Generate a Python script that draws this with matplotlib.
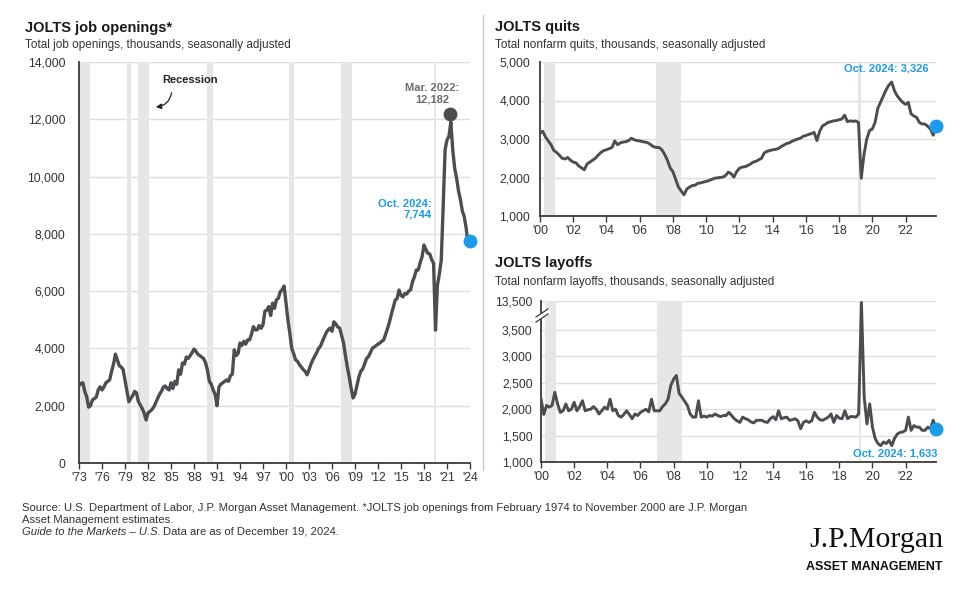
import numpy as np
import matplotlib
matplotlib.use("Agg")
import matplotlib.pyplot as plt
from matplotlib.lines import Line2D
from matplotlib.patches import FancyArrowPatch
from matplotlib.ticker import FuncFormatter

plt.rcParams["font.family"] = ["Liberation Sans", "DejaVu Sans"]

# ---------------- data ----------------
# JOLTS job openings (thousands), quarterly readings from Oct 1973 to Oct 2024
openings_start = 1973.75
openings = [
    2700,
    2780, 2800, 2500, 2320,
    1950, 2000, 2200, 2250,
    2300, 2550, 2660, 2550,
    2650, 2800, 2850, 2900,
    3200, 3450, 3800, 3600,
    3400, 3350, 3270, 2900,
    2550, 2140, 2250, 2350,
    2500, 2450, 2140, 2020,
    1900, 1740, 1500, 1750,
    1800, 1860, 1950, 2100,
    2250, 2400, 2500, 2650,
    2690, 2600, 2550, 2800,
    2600, 2850, 2750, 3250,
    3100, 3490, 3450, 3700,
    3650, 3750, 3850, 3980,
    3900, 3800, 3750, 3700,
    3650, 3500, 3250, 2850,
    2750, 2550, 2400, 2000,
    2650, 2750, 2800, 2850,
    2900, 2850, 3050, 3100,
    3950, 3750, 3820, 4190,
    4100, 4250, 4150, 4300,
    4300, 4500, 4760, 4650,
    4650, 4800, 4700, 4830,
    5300, 5340, 5460, 5150,
    5580, 5400, 5700, 5750,
    5980, 6050, 6180, 5600,
    5000, 4530, 4000, 3820,
    3600, 3550, 3430, 3350,
    3260, 3200, 3080, 3250,
    3450, 3600, 3730, 3850,
    4000, 4080, 4250, 4400,
    4550, 4650, 4710, 4600,
    4930, 4850, 4750, 4710,
    4450, 4200, 3750, 3350,
    3000, 2600, 2270, 2400,
    2700, 3000, 3200, 3280,
    3450, 3650, 3710, 3850,
    4000, 4050, 4100, 4150,
    4190, 4250, 4300, 4500,
    4700, 4930, 5200, 5450,
    5690, 5750, 6040, 5850,
    5800, 5920, 5900, 6000,
    6040, 6330, 6500, 6740,
    6740, 7000, 7200, 7610,
    7450, 7320, 7300, 7100,
    6970, 4640, 6200, 6600,
    7080, 8950, 10930, 11280,
    11400, 11900, 10930, 10290,
    9950, 9500, 9200, 8800,
    8600, 8200, 7600, 7744,
]
openings_ticklabels = ["'73", "'76", "'79", "'82", "'85", "'88", "'91", "'94", "'97",
                       "'00", "'03", "'06", "'09", "'12", "'15", "'18", "'21", "'24"]
peak_date, peak_value, peak_label = 2022 + 2 / 12, 12182, "Mar. 2022:\n12,182"
openings_last_label = "Oct. 2024:\n7,744"

# JOLTS quits and layoffs (thousands), bimonthly readings Dec 2000 .. Oct 2024
jolts_start = 2000 + 11 / 12
quits = [
    3150,
    3200, 3050, 2950, 2850, 2700, 2650,
    2580, 2500, 2480, 2520, 2450, 2400,
    2380, 2300, 2250, 2200, 2350, 2400,
    2450, 2500, 2580, 2650, 2700, 2720,
    2750, 2780, 2950, 2850, 2900, 2920,
    2930, 2960, 3020, 2980, 2960, 2950,
    2930, 2920, 2900, 2850, 2800, 2780,
    2780, 2720, 2600, 2450, 2250, 2150,
    1950, 1750, 1650, 1550, 1700, 1750,
    1790, 1800, 1850, 1860, 1880, 1900,
    1920, 1950, 1980, 1990, 2000, 2010,
    2050, 2140, 2100, 2010, 2150, 2240,
    2270, 2280, 2310, 2350, 2400, 2420,
    2460, 2500, 2640, 2680, 2700, 2720,
    2730, 2750, 2800, 2840, 2880, 2900,
    2940, 2970, 3000, 3020, 3070, 3090,
    3120, 3140, 3170, 2960, 3200, 3340,
    3380, 3430, 3450, 3470, 3480, 3500,
    3520, 3620, 3450, 3470, 3460, 3470,
    3430, 1980, 2600, 3000, 3220, 3260,
    3430, 3800, 3960, 4120, 4280, 4400,
    4480, 4250, 4120, 4030, 3950, 3900,
    3950, 3650, 3600, 3560, 3430, 3390,
    3390, 3330, 3260, 3100, 3326,
]
layoffs = [
    2200,
    1900, 2070, 2040, 2070, 2320, 2100,
    1940, 1970, 2100, 1970, 2000, 2130,
    1970, 2050, 2160, 1970, 1990, 2000,
    2050, 2000, 1910, 1970, 2040, 2000,
    2190, 1970, 2000, 1880, 1850, 1900,
    1970, 1900, 1820, 1910, 1880, 1940,
    1970, 2000, 1950, 2190, 1970, 1970,
    1970, 2050, 2100, 2190, 2450, 2570,
    2640, 2300, 2230, 2150, 2070, 1910,
    1850, 1850, 2160, 1850, 1870, 1850,
    1880, 1870, 1910, 1880, 1860, 1880,
    1880, 1940, 1880, 1820, 1780, 1750,
    1850, 1820, 1800, 1760, 1740, 1790,
    1790, 1790, 1760, 1750, 1820, 1860,
    1800, 1970, 1820, 1840, 1850, 1790,
    1800, 1820, 1780, 1630, 1750, 1780,
    1750, 1780, 1940, 1850, 1800, 1790,
    1820, 1850, 1910, 1750, 1880, 1830,
    1820, 1970, 1820, 1860, 1860, 1850,
    1910, 13000, 2230, 1720, 2100, 1660,
    1440, 1350, 1310, 1380, 1350, 1410,
    1310, 1450, 1530, 1560, 1570, 1600,
    1850, 1600, 1690, 1660, 1660, 1600,
    1600, 1660, 1630, 1790, 1633,
]
jolts_ticklabels = ["'00", "'02", "'04", "'06", "'08", "'10", "'12",
                    "'14", "'16", "'18", "'20", "'22"]
quits_last_label = "Oct. 2024: 3,326"
layoffs_last_label = "Oct. 2024: 1,633"

# NBER recessions (decimal years)
recession_starts = [1973.83, 1980.0, 1981.5, 1990.5, 2001.17, 2007.92, 2020.08]
recession_ends = [1975.17, 1980.5, 1982.83, 1991.17, 2001.83, 2009.42, 2020.25]

# ---------------- style ----------------
W, H = 974, 590
LINE = "#4b4d50"
BLUE = "#1a9cec"
GRID = "#dedede"
SHADE = "#e6e6e6"
TXT = "#333333"

fig = plt.figure(figsize=(W / 100, H / 100), dpi=100)


def box(l, t, r, b):
    return [l / W, 1 - b / H, (r - l) / W, (b - t) / H]


def fpx(x, y):
    return x / W, 1 - y / H


thousands = FuncFormatter(lambda v, p: f"{int(round(v)):,}")


def style(ax, ypad):
    for s in ("top", "right"):
        ax.spines[s].set_visible(False)
    for s in ("left", "bottom"):
        ax.spines[s].set_color("#3a3a3a")
        ax.spines[s].set_linewidth(1.3)
    ax.set_axisbelow(True)
    ax.yaxis.grid(True, color=GRID, lw=1.0)
    ax.tick_params(axis="y", length=0, pad=ypad, labelsize=8.7, labelcolor=TXT)
    ax.tick_params(axis="x", length=4, width=1, color="#3a3a3a", pad=2.5,
                   labelsize=8.7, labelcolor=TXT)
    ax.yaxis.set_major_formatter(thousands)


def shade(ax, lo, hi):
    for s, e in zip(recession_starts, recession_ends):
        if e >= lo and s <= hi:
            ax.axvspan(max(s, lo), min(e, hi), color=SHADE, lw=0, zorder=1)


# ---------- left: job openings ----------
ax1 = fig.add_axes(box(79, 62, 470, 463))
jo_x = openings_start + np.arange(len(openings)) * 0.25
ax1.set_xlim(openings_start, jo_x[-1])
ax1.set_ylim(0, 14000)
ax1.set_yticks(np.arange(0, 14001, 2000))
ax1.set_xticks(openings_start + 3 * np.arange(len(openings_ticklabels)))
ax1.set_xticklabels(openings_ticklabels)
style(ax1, 10)
shade(ax1, openings_start, jo_x[-1])
ax1.plot(jo_x, openings, color=LINE, lw=2.4, zorder=3, solid_joinstyle="round")
ax1.plot([peak_date], [peak_value], "o", ms=9, color=LINE, zorder=4, clip_on=False)
ax1.plot([jo_x[-1]], [openings[-1]], "o", ms=9, color=BLUE, zorder=5, clip_on=False)
ax1.annotate(peak_label, (peak_date, peak_value), xytext=(-18, 20),
             textcoords="offset pixels", ha="center", va="center",
             fontsize=8, fontweight="bold", color="#6b6c6e", linespacing=1.15)
ax1.annotate(openings_last_label, (jo_x[-1], openings[-1]), xytext=(-38, 32),
             textcoords="offset pixels", ha="right", va="center",
             fontsize=8, fontweight="bold", color=BLUE, linespacing=1.15)

# Recession callout
fig.text(*fpx(190, 80), "Recession", ha="center", va="center",
         fontsize=8, fontweight="bold", color="#222222")
fig.add_artist(FancyArrowPatch(fpx(172, 90), fpx(153, 107), transform=fig.transFigure,
                               connectionstyle="arc3,rad=-0.45", arrowstyle="-|>",
                               mutation_scale=8, lw=0.9, color="#222222"))

# ---------- right top: quits ----------
jq_x = jolts_start + np.arange(len(quits)) * (2 / 12)
ax2 = fig.add_axes(box(540, 62, 936, 216))
ax2.set_xlim(jolts_start, jq_x[-1])
ax2.set_ylim(1000, 5000)
ax2.set_yticks(np.arange(1000, 5001, 1000))
ax2.set_xticks(jolts_start + 2 * np.arange(len(jolts_ticklabels)))
ax2.set_xticklabels(jolts_ticklabels)
style(ax2, 7)
shade(ax2, jolts_start, jq_x[-1])
ax2.plot(jq_x, quits, color=LINE, lw=2.1, zorder=3, solid_joinstyle="round")
ax2.plot([jq_x[-1]], [quits[-1]], "o", ms=9, color=BLUE, zorder=5, clip_on=False)
ax2.annotate(quits_last_label, (jq_x[-1], quits[-1]), xytext=(-8, 58),
             textcoords="offset pixels", ha="right", va="center",
             fontsize=8, fontweight="bold", color=BLUE)

# ---------- right bottom: layoffs (broken axis) ----------
BREAK, K = 3500.0, 0.055


def fwd(v):
    v = np.asarray(v, float)
    return np.where(v <= BREAK, v, BREAK + (v - BREAK) * K)


def inv(u):
    u = np.asarray(u, float)
    return np.where(u <= BREAK, u, BREAK + (u - BREAK) / K)


ax3 = fig.add_axes(box(541, 301, 936, 462))
ax3.set_yscale("function", functions=(fwd, inv))
ax3.set_xlim(jolts_start, jq_x[-1])
ax3.set_ylim(1000, 13500)
ax3.set_yticks([1000, 1500, 2000, 2500, 3000, 3500, 13500])
ax3.yaxis.set_minor_locator(matplotlib.ticker.NullLocator())
ax3.set_xticks(jolts_start + 2 * np.arange(len(jolts_ticklabels)))
ax3.set_xticklabels(jolts_ticklabels)
style(ax3, 6)
shade(ax3, jolts_start, jq_x[-1])
ax3.plot(jq_x, layoffs, color=LINE, lw=2.1, zorder=3, solid_joinstyle="round")
ax3.plot([jq_x[-1]], [layoffs[-1]], "o", ms=9, color=BLUE, zorder=5, clip_on=False)
ax3.annotate(layoffs_last_label, (jq_x[-1], layoffs[-1]), xytext=(1, -25),
             textcoords="offset pixels", ha="right", va="center",
             fontsize=8, fontweight="bold", color=BLUE)
# break marks on the y axis
fig.add_artist(Line2D([fpx(536, 0)[0], fpx(548, 0)[0]],
                      [fpx(0, 319)[1], fpx(0, 312)[1]], color="white", lw=3.5))
for dy in (0, 5):
    fig.add_artist(Line2D([fpx(536, 0)[0], fpx(548, 0)[0]],
                          [fpx(0, 322 - dy)[1], fpx(0, 314 - dy)[1]],
                          color="#3a3a3a", lw=0.9))

# ---------- titles ----------
fig.text(*fpx(25, 28), "JOLTS job openings*", fontsize=10.5, fontweight="bold",
         color="#1a1a1a", va="center")
fig.text(*fpx(25, 45), "Total job openings, thousands, seasonally adjusted",
         fontsize=8.5, color=TXT, va="center")
fig.text(*fpx(495, 27), "JOLTS quits", fontsize=10.5, fontweight="bold",
         color="#1a1a1a", va="center")
fig.text(*fpx(495, 45), "Total nonfarm quits, thousands, seasonally adjusted",
         fontsize=8.5, color=TXT, va="center")
fig.text(*fpx(495, 263), "JOLTS layoffs", fontsize=10.5, fontweight="bold",
         color="#1a1a1a", va="center")
fig.text(*fpx(495, 282), "Total nonfarm layoffs, thousands, seasonally adjusted",
         fontsize=8.5, color=TXT, va="center")

# divider
fig.add_artist(Line2D([fpx(483, 0)[0]] * 2, [fpx(0, 15)[1], fpx(0, 470)[1]],
                      color="#c8c8c8", lw=1))

# ---------- footer ----------
FOOT = ["Liberation Sans Narrow", "Liberation Sans", "DejaVu Sans"]
FS = 8.1
fig.text(*fpx(22, 508), "Source: U.S. Department of Labor, J.P. Morgan Asset Management. "
         "*JOLTS job openings from February 1974 to November 2000 are J.P. Morgan",
         fontsize=FS, color=TXT, va="center", family=FOOT)
fig.text(*fpx(22, 520), "Asset Management estimates.", fontsize=FS, color=TXT,
         va="center", family=FOOT)
t_it = fig.text(*fpx(22, 532), "Guide to the Markets \u2013 U.S.", fontsize=FS,
                color=TXT, va="center", style="italic", family=FOOT)
r = fig.canvas.get_renderer()
bb = t_it.get_window_extent(renderer=r)
fig.text(bb.x1 / W + 2 / W, fpx(0, 532)[1], "Data are as of December 19, 2024.",
         fontsize=FS, color=TXT, va="center", family=FOOT)

# logo
fig.text(*fpx(943, 540), "J.P.Morgan", fontsize=21.5, color="#111111", ha="right",
         va="center", family=["Liberation Serif", "DejaVu Serif"])
fig.text(*fpx(943, 567), "ASSET MANAGEMENT", fontsize=9, fontweight="bold",
         color="#111111", ha="right", va="center", family=FOOT)

fig.savefig("out.png", dpi=100)
